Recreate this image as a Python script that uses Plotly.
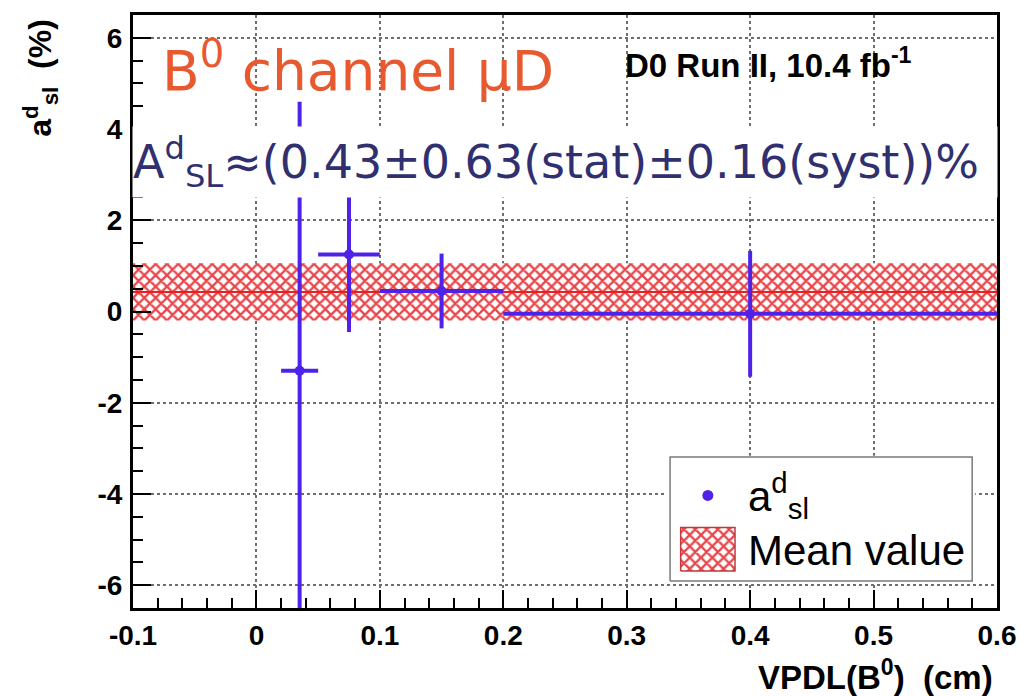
import plotly.graph_objects as go

# ---------------- data ----------------
vpdl_center = [0.035, 0.075, 0.15, 0.4]
vpdl_halfwidth = [0.015, 0.025, 0.05, 0.2]
asl_values = [-1.3, 1.25, 0.45, -0.05]
asl_errors = [5.9, 1.7, 0.82, 1.38]
mean_value = 0.43
mean_stat = 0.63
mean_syst = 0.16
x_range = [-0.1, 0.6]
y_range = [-6.5, 6.5]
x_tick_vals = [-0.1, 0.0, 0.1, 0.2, 0.3, 0.4, 0.5, 0.6]
x_tick_text = ["-0.1", "0", "0.1", "0.2", "0.3", "0.4", "0.5", "0.6"]
y_tick_vals = [-6, -4, -2, 0, 2, 4, 6]
y_tick_text = ["-6", "-4", "-2", "0", "2", "4", "6"]

PURPLE = "#4E22E8"
RED = "#E8201E"
FONT = "Liberation Sans"

W, H = 1028, 696
ML, MR, MT, MB = 133, 23, 12, 88
PW, PH = W - ML - MR, H - MT - MB


def px_to_paper_x(px):
    return (px - ML) / PW


def px_to_paper_y(py):
    return (H - MB - py) / PH


hatch = dict(shape="x", fgcolor="#E8474C", bgcolor="#FFFFFF", size=8,
             solidity=0.5, fillmode="replace")

fig = go.Figure()

# mean band (hatched)
fig.add_trace(go.Scatter(
    x=[x_range[0], x_range[1], x_range[1], x_range[0], x_range[0]],
    y=[mean_value - mean_stat, mean_value - mean_stat, mean_value + mean_stat,
       mean_value + mean_stat, mean_value - mean_stat],
    mode="lines", line=dict(width=0), fill="toself", fillpattern=hatch,
    hoverinfo="skip", showlegend=False))

# mean line
fig.add_trace(go.Scatter(
    x=x_range, y=[mean_value, mean_value], mode="lines",
    line=dict(color=RED, width=2), showlegend=False))

# data points
fig.add_trace(go.Scatter(
    x=vpdl_center, y=asl_values, mode="markers",
    marker=dict(color=PURPLE, size=10),
    error_x=dict(type="data", array=vpdl_halfwidth, color=PURPLE, thickness=4, width=0),
    error_y=dict(type="data", array=asl_errors, color=PURPLE, thickness=4, width=0),
    showlegend=False))

# ---------------- legend drawn in an auxiliary subplot ----------------
fig.add_trace(go.Scatter(
    x=[0, 1, 1, 0, 0], y=[0, 0, 1, 1, 0], mode="lines", fill="toself",
    fillcolor="white", line=dict(color="#7a7a7a", width=1.5),
    xaxis="x2", yaxis="y2", showlegend=False, hoverinfo="skip"))
fig.add_trace(go.Scatter(
    x=[0.125], y=[0.69], mode="markers", marker=dict(color=PURPLE, size=11),
    xaxis="x2", yaxis="y2", showlegend=False, hoverinfo="skip"))
fig.add_trace(go.Scatter(
    x=[0.035, 0.215, 0.215, 0.035, 0.035], y=[0.08, 0.08, 0.43, 0.43, 0.08],
    mode="lines", fill="toself", fillpattern=hatch,
    line=dict(color="#C0393B", width=1.5),
    xaxis="x2", yaxis="y2", showlegend=False, hoverinfo="skip"))

annotations = [
    dict(x=0.25, y=0.69, xref="x2", yref="y2", xanchor="left", yanchor="middle",
         text="a<sup>d</sup><sub>sl</sub>", showarrow=False,
         font=dict(family=FONT, size=42, color="black")),
    dict(x=0.25, y=0.245, xref="x2", yref="y2", xanchor="left", yanchor="middle",
         text="Mean value", showarrow=False,
         font=dict(family=FONT, size=42, color="black")),
    # experiment label
    dict(x=px_to_paper_x(628), y=px_to_paper_y(60), xref="paper", yref="paper",
         xanchor="left", yanchor="middle", showarrow=False,
         text="D0 Run II, 10.4 fb<sup>-1</sup>",
         font=dict(family=FONT, size=33, color="black", weight="bold")),
    # channel label
    dict(x=px_to_paper_x(160), y=px_to_paper_y(64), xref="paper", yref="paper",
         xanchor="left", yanchor="middle", showarrow=False,
         text="B<sup>0</sup> channel μD",
         font=dict(family="DejaVu Sans", size=55, color="#E8592F")),
    # result
    dict(x=0.5, y=px_to_paper_y(160), xref="paper", yref="paper",
         xanchor="center", yanchor="middle", showarrow=False,
         text=f"A<sup>d</sup><sub>SL</sub>≈({mean_value:.2f}±{mean_stat:.2f}(stat)±{mean_syst:.2f}(syst))%",
         bgcolor="white", width=PW - 8, height=70, align="left", borderpad=0,
         font=dict(family="DejaVu Sans", size=46, color="#303070")),
    # y title
    dict(x=px_to_paper_x(40), y=px_to_paper_y(14), xref="paper", yref="paper",
         xanchor="center", yanchor="top", showarrow=False, textangle=-90,
         text="a<sup>d</sup><sub>sl</sub>  (%)",
         font=dict(family=FONT, size=32, color="black", weight="bold")),
    # x title
    dict(x=px_to_paper_x(1003), y=px_to_paper_y(675), xref="paper", yref="paper",
         xanchor="right", yanchor="middle", showarrow=False,
         text="VPDL(B<sup>0</sup>)  (cm)",
         font=dict(family=FONT, size=33, color="black", weight="bold")),
]

axis_common = dict(
    showline=True, linecolor="black", linewidth=3, mirror=True,
    ticks="inside", tickcolor="black", tickwidth=2, ticklen=18,
    showgrid=True, gridcolor="#6e6e6e", griddash="dot", gridwidth=1.5,
    zeroline=False, layer="above traces",
    tickfont=dict(family=FONT, size=28, color="black", weight="bold"),
)

fig.update_layout(
    width=W, height=H,
    margin=dict(l=ML, r=MR, t=MT, b=MB),
    paper_bgcolor="white", plot_bgcolor="white",
    showlegend=False,
    xaxis=dict(range=x_range, tickvals=x_tick_vals, ticktext=x_tick_text,
               minor=dict(dtick=0.02, ticks="inside", ticklen=10, tickcolor="black",
                          tickwidth=1.5, showgrid=False),
               ticklabelstandoff=0, **axis_common),
    yaxis=dict(range=y_range, tickvals=y_tick_vals, ticktext=y_tick_text,
               minor=dict(dtick=0.5, ticks="inside", ticklen=10, tickcolor="black",
                          tickwidth=1.5, showgrid=False),
               ticklabelstandoff=2, **axis_common),
    xaxis2=dict(domain=[px_to_paper_x(672), px_to_paper_x(983)], range=[-0.01, 1.01],
                anchor="y2", visible=False),
    yaxis2=dict(domain=[px_to_paper_y(582), px_to_paper_y(455)], range=[-0.01, 1.01],
                anchor="x2", visible=False),
    annotations=annotations,
)

fig.write_html("out.html")
